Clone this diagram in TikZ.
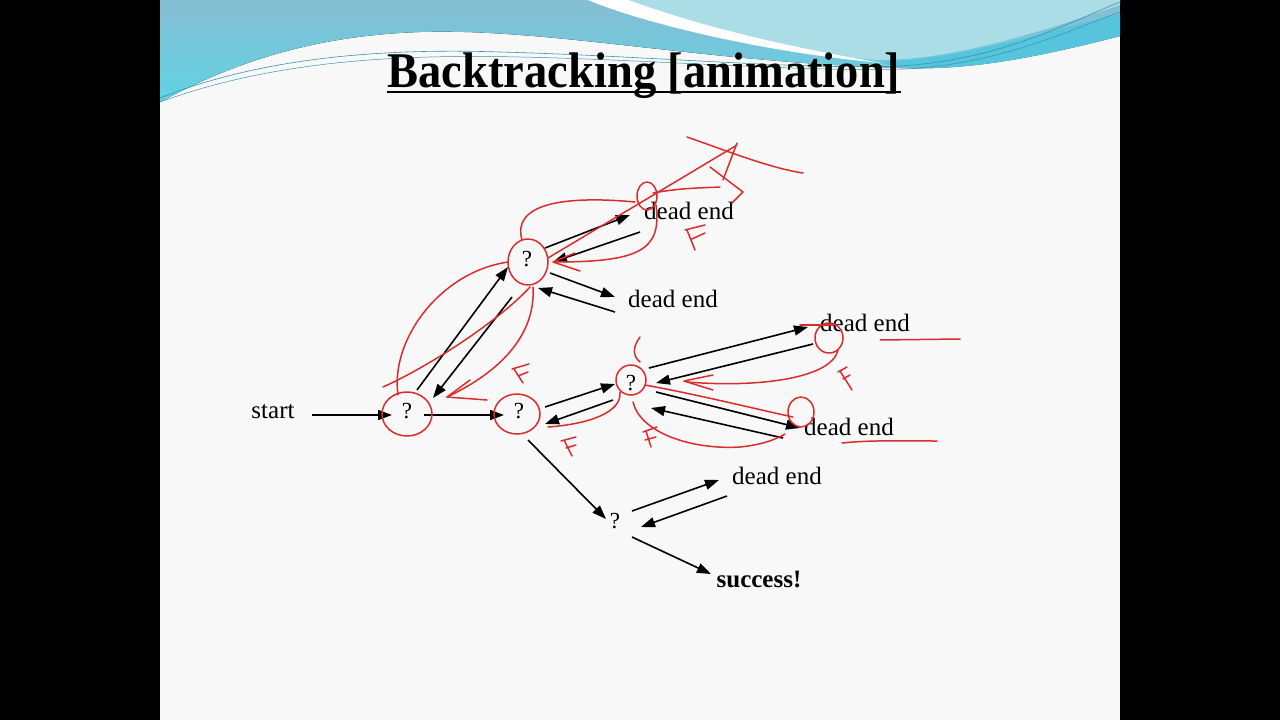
\documentclass[tikz,border=0pt]{standalone}
\usepackage{tikz}
\usepackage{fontspec}
\setmainfont{Liberation Serif}
\usetikzlibrary{arrows.meta}

\definecolor{slidebg}{HTML}{F8F8F8}
\definecolor{wavetop}{HTML}{86BDD3}
\definecolor{wavebot}{HTML}{5FD3E3}
\definecolor{wavelight}{HTML}{AADDE5}
\definecolor{wavedeep}{HTML}{55C4DC}
\definecolor{waveline}{HTML}{3A94A8}
\definecolor{inkred}{HTML}{DA2C2C}

\begin{document}
\begin{tikzpicture}[x=1pt, y=-1pt,
  endtext/.style={font=\fontsize{25}{29}\selectfont, inner sep=0pt},
  qmark/.style={font=\fontsize{23}{27}\selectfont, inner sep=0pt},
  arr/.style={-{Triangle[length=14pt,width=10pt]}, line width=1.6pt},
  ink/.style={draw=inkred, line width=1.5pt, line cap=round, line join=round}
]
\useasboundingbox (0,0) rectangle (1280,720);

% Slide and side bars
\fill[black] (0,0) rectangle (1280,720);
\fill[slidebg] (160,0) rectangle (1120,720);

% Wave at the top
\fill[top color=wavetop, bottom color=wavebot] (160,0) -- (1120,0) -- (1120,36)
  .. controls (1020,62) and (960,70) .. (900,68)
  .. controls (700,62) and (550,28) .. (420,32)
  .. controls (300,36) and (220,70) .. (160,102) -- cycle;
\fill[wavedeep] (880,62) .. controls (960,60) and (1060,28) .. (1120,14) -- (1120,36)
  .. controls (1020,62) and (960,70) .. (900,68) -- cycle;
\fill[wavelight] (625,0) .. controls (720,35) and (800,56) .. (880,60)
  .. controls (960,60) and (1060,25) .. (1120,5) -- (1120,0) -- cycle;
\fill[white] (588,0) .. controls (640,22) and (760,52) .. (882,63)
  .. controls (760,42) and (690,22) .. (628,0) -- cycle;
\draw[waveline, line width=0.6pt] (160,98) .. controls (260,58) and (380,48) .. (500,52)
  .. controls (650,56) and (800,70) .. (900,66) .. controls (1000,60) and (1070,22) .. (1120,2);
\draw[waveline, line width=0.5pt] (160,102) .. controls (270,62) and (390,54) .. (520,57)
  .. controls (660,60) and (800,72) .. (905,69) .. controls (1000,64) and (1070,30) .. (1120,12);

% Title
\node[anchor=base, inner sep=0pt] (title) at (644,87)
  {\scalebox{0.93}[1]{\fontsize{50}{54}\selectfont\bfseries Backtracking [animation]}};
\draw[line width=2.4pt] ([yshift=-5pt]title.base west) -- ([yshift=-5pt]title.base east);

% Nodes
\node[endtext] (start) at (273,412) {start};
\node[qmark] (A) at (407,411) {?};
\node[qmark] (B) at (519,411) {?};
\node[qmark] (C) at (527,259) {?};
\node[qmark] (D) at (631,383) {?};
\node[qmark] (E) at (615,521) {?};
\node[endtext] (dead1) at (689,211) {dead end};
\node[endtext] (dead2) at (673,299) {dead end};
\node[endtext] (dead3) at (865,323) {dead end};
\node[endtext] (dead4) at (849,427) {dead end};
\node[endtext] (dead5) at (777,476) {dead end};
\node[endtext, font=\fontsize{25}{29}\selectfont\bfseries] (success) at (759,579) {success!};

% Arrows, with offsets from the node centres
\foreach \a/\ax/\ay/\b/\bx/\by in {
  start/39/3/A/-15/4, A/17/4/B/-15/4,
  A/10/-21/C/-19/8, C/-15/38/A/26/-13,
  C/18/-11/dead1/-59/4, dead1/-49/21/C/26/3,
  C/23/14/dead2/-58/-2, dead2/-58/13/C/11/29,
  B/26/-4/D/-16/1, D/-18/17/B/26/13,
  D/18/-15/dead3/-57/4, dead3/-52/21/D/25/0,
  D/25/9/dead4/-49/1, dead4/-66/11/D/20/25,
  B/9/29/E/-9/-2,
  E/17/-10/dead5/-58/4, dead5/-50/20/E/26/6,
  E/17/16/success/-48/-5} {
  \draw[arr] ([shift={(\ax,\ay)}]\a.center) -- ([shift={(\bx,\by)}]\b.center);
}

% Red ink: rings
\draw[ink] (407,414) ellipse [x radius=25, y radius=22];
\draw[ink] (517,414) ellipse [x radius=23, y radius=20];
\draw[ink] (528,262) ellipse [x radius=20, y radius=23];
\draw[ink] (631,380) ellipse [x radius=15, y radius=15];
\draw[ink] (647,196) ellipse [x radius=10, y radius=14];
\draw[ink] (829,338) ellipse [x radius=14, y radius=15];
\draw[ink] (801,412) ellipse [x radius=13, y radius=15];

% Red ink: top branch
\draw[ink] (522,240) .. controls (512,205) and (560,195) .. (635,202);
\draw[ink] (656,205) .. controls (662,250) and (640,262) .. (555,262);
\draw[ink] (575,253) -- (553,262) -- (580,271);
\draw[ink] (548,258) -- (737,145);
\draw[ink] (687,137) .. controls (730,152) and (770,168) .. (803,173);
\draw[ink] (737,143) -- (723,180);
\draw[ink] (710,167) -- (743,192) -- (732,203);
\draw[ink] (653,193) .. controls (680,188) and (700,188) .. (720,187);
\draw[ink] (685,230) -- (705,225) (687,230) -- (695,250) (692,239) -- (705,233);

% Red ink: A to C
\draw[ink] (398,395) .. controls (390,340) and (440,272) .. (508,262);
\draw[ink] (533,287) .. controls (536,335) and (500,372) .. (447,397);
\draw[ink] (470,380) -- (447,397) -- (487,400);
\draw[ink] (383,387) .. controls (430,366) and (500,320) .. (530,287);
\draw[ink] (512,369) -- (529,364) (514,369) -- (523,383) (518,376) -- (528,372);

% Red ink: B to D and its dead ends
\draw[ink] (620,392) .. controls (622,412) and (590,424) .. (548,427);
\draw[ink] (561,441) -- (576,437) (564,440) -- (572,456) (566,448) -- (576,445);
\draw[ink] (640,337) .. controls (632,348) and (633,356) .. (640,362);
\draw[ink] (838,350) .. controls (832,378) and (760,388) .. (687,382);
\draw[ink] (713,375) -- (684,381) -- (713,390);
\draw[ink] (838,372) -- (847,367) (840,371) -- (852,390) (843,379) -- (850,375);
\draw[ink] (800,325) -- (833,325);
\draw[ink] (645,385) .. controls (700,395) and (760,410) .. (793,417);
\draw[ink] (633,402) .. controls (640,432) and (690,450) .. (740,447)
  .. controls (760,445) and (775,440) .. (785,434);
\draw[ink] (643,432) -- (657,427) (646,431) -- (651,447) (645,440) -- (656,437);
\draw[ink] (880,340) -- (960,339);
\draw[ink] (842,443) .. controls (870,440) and (900,441) .. (937,441);

\end{tikzpicture}
\end{document}
